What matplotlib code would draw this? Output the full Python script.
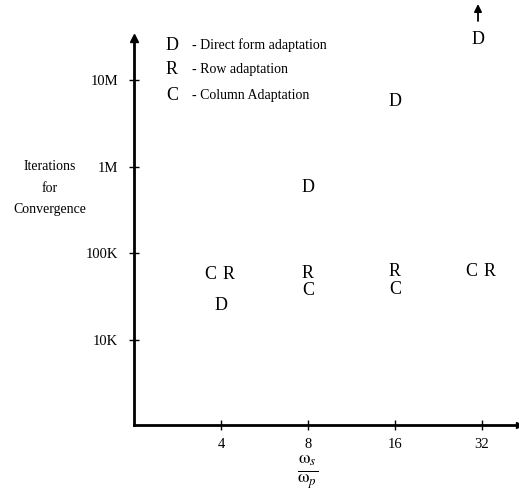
import matplotlib
matplotlib.use("Agg")
import matplotlib.pyplot as plt
from matplotlib.patches import FancyArrowPatch
import numpy as np

# ---- data ----
ratios = ['4', '8', '16', '32']
direct = [25e3, 570e3, 5.7e6, 29e6]
row = [57e3, 59e3, 61e3, 61e3]
column = [57e3, 37e3, 38e3, 61e3]
ytick_vals = [1e4, 1e5, 1e6, 1e7]
ytick_labels = ['10K', '100K', '1M', '10M']
legend_items = [('D', '- Direct form adaptation'),
                ('R', '- Row adaptation'),
                ('C', '- Column Adaptation')]

plt.rcParams['font.family'] = ['Liberation Serif', 'DejaVu Serif']
plt.rcParams['mathtext.fontset'] = 'stix'

W, H = 519, 496
fig = plt.figure(figsize=(W / 100, H / 100), dpi=100)

def fx(x):
    return x / W

def fy(y):
    return 1 - y / H

x0, y0, x1, y1 = 134, 425, 519, 38
ax = fig.add_axes([fx(x0), fy(y0), fx(x1) - fx(x0), fy(y1) - fy(y0)])
ax.set_yscale('log')
unit = 87.0
decade = 86.7
ax.set_xlim(0, (x1 - x0) / unit)
ax.set_ylim(10 ** (4 - (y0 - 340) / decade), 10 ** (7 + (80 - y1) / decade))

for s in ['top', 'right']:
    ax.spines[s].set_visible(False)
for s in ['left', 'bottom']:
    ax.spines[s].set_linewidth(2)
ax.plot(0, 1, '^k', markersize=6, transform=ax.transAxes, clip_on=False)
ax.plot(1, 0, '>k', markersize=5, transform=ax.transAxes, clip_on=False)

xpos = np.arange(1, len(ratios) + 1)
ax.set_xticks(xpos)
ax.set_xticklabels(ratios, fontsize=10.5)
ax.set_yticks(ytick_vals)
ax.set_yticklabels(ytick_labels, fontsize=10.5)
ax.minorticks_off()
ax.tick_params(direction='inout', length=7, width=1, pad=8)
ax.tick_params(axis='x', pad=6)

fs = 13
for i, x in enumerate(xpos):
    if row[i] == column[i]:
        ax.text(x - 0.12, column[i], 'C', fontsize=fs, ha='center', va='center')
        ax.text(x + 0.09, row[i], 'R', fontsize=fs, ha='center', va='center')
    else:
        ax.text(x, row[i], 'R', fontsize=fs, ha='center', va='center')
        ax.text(x, column[i], 'C', fontsize=fs, ha='center', va='center')
    if i < len(xpos) - 1:
        ax.text(x, direct[i], 'D', fontsize=fs, ha='center', va='center')
    else:
        # off-scale value: letter at the top with an upward arrow above it
        ax.text(x - 0.05, direct[i], 'D', fontsize=fs, ha='center', va='center', clip_on=False)
        fig.add_artist(FancyArrowPatch(
            (fx(478), fy(21)), (fx(478), fy(4)), transform=fig.transFigure,
            arrowstyle='-|>', mutation_scale=11, color='k', lw=1.3,
            shrinkA=0, shrinkB=0))

# legend
for j, (k, lbl) in enumerate(legend_items):
    yy = 45 + j * 25
    fig.text(fx(172), fy(yy), k, fontsize=13, ha='center', va='center')
    fig.text(fx(192), fy(yy), lbl, fontsize=10, ha='left', va='center')

fig.text(fx(50), fy(188), 'Iterations\nfor\nConvergence', fontsize=10,
         ha='center', va='center', linespacing=1.9)
fig.text(fx(308), fy(472), r'$\frac{\mathrm{\omega}_s}{\mathrm{\omega}_p}$', fontsize=19,
         ha='center', va='center')

fig.savefig('out.png', dpi=100)
